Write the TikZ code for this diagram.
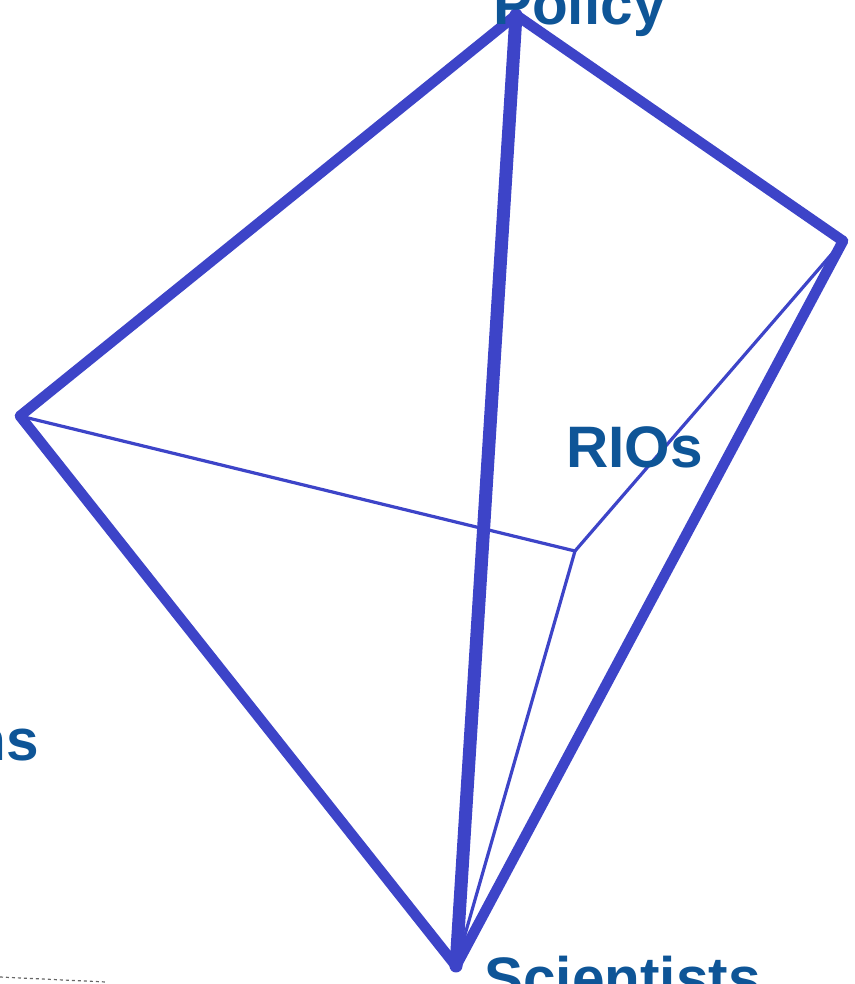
\documentclass[tikz,border=0pt]{standalone}
\usepackage{fontspec}
\setmainfont{Liberation Sans}
\definecolor{edgeblue}{HTML}{3D44C8}
\definecolor{textblue}{HTML}{0E5597}
\tikzset{
  thickedge/.style={draw=edgeblue, line width=10.5pt, line cap=round, line join=round},
  thickeredge/.style={draw=edgeblue, line width=13pt, line cap=round, line join=round},
  thinedge/.style={draw=edgeblue, line width=3.2pt, line cap=round, line join=round},
  lbl/.style={inner sep=0pt, text=textblue, font=\bfseries\fontsize{58.5}{62}\selectfont}
}
\begin{document}
\begin{tikzpicture}[x=1pt,y=-1pt]
\useasboundingbox (0,0) rectangle (854,984);
\coordinate (P) at (516,15);
\coordinate (R) at (843,241);
\coordinate (L) at (20,416);
\coordinate (S) at (456,966);
\coordinate (C) at (575,551);
% thin inner edges
\draw[thinedge] (L) -- (C);
\draw[thinedge] (C) -- (R);
\draw[thinedge] (C) -- (S);
% thick outer edges
\draw[thickedge] (P) -- (L);
\draw[thickedge] (P) -- (R);
\draw[thickedge] (L) -- (S);
\draw[thickedge] (R) -- (S);
\draw[thickeredge] (P) -- (S);
% labels
\node[lbl, anchor=base west] (policy) at (493,25) {Policy};
\node[lbl, anchor=base west] (rios) at (566,467) {RIOs};
\node[lbl, anchor=base east] (ns) at (39,760) {ns};
\node[lbl, anchor=base west] (sci) at (484,998) {Scientists};
% dashed line bottom left
\coordinate (d1) at (0,977);
\coordinate (d2) at (106,982);
\draw[gray!80!black, line width=1.2pt, dashed] (d1) -- (d2);
\end{tikzpicture}
\end{document}
